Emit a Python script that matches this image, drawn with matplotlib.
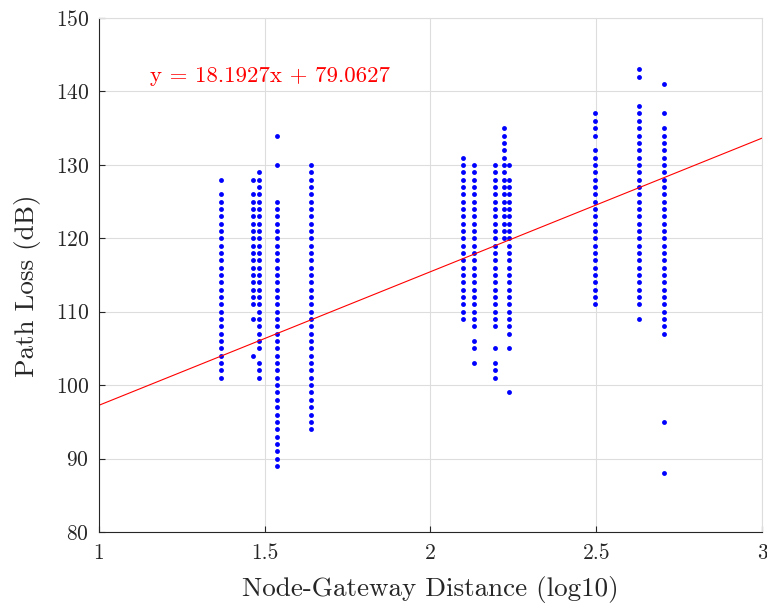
import numpy as np
import matplotlib
matplotlib.use("Agg")
import matplotlib.pyplot as plt

plt.rcParams['font.family'] = 'cmr10'
plt.rcParams['axes.formatter.use_mathtext'] = True

# x positions of the node groups (log10 of distance)
dist = [1.368, 1.464, 1.484, 1.538, 1.640, 2.099, 2.130, 2.196, 2.222, 2.238, 2.496, 2.628, 2.705]

# measured path loss (dB) for each group
loss = [
    [128, 126, 125, 124, 123, 122, 121, 120, 119, 118, 117, 116, 115, 114, 113, 112, 111, 110, 109, 108, 107,
     106, 105, 104, 103, 102, 101],
    [128, 126, 125, 124, 123, 122, 121, 120, 119, 118, 117, 116, 115, 114, 113, 112, 111, 109, 104],
    [129, 128, 127, 126, 125, 124, 123, 122, 121, 120, 119, 118, 117, 116, 115, 114, 113, 112, 111, 110, 109,
     108, 107, 106, 105, 103, 102, 101],
    [134, 130, 125, 124, 123, 122, 121, 120, 119, 118, 117, 116, 115, 114, 113, 112, 111, 110, 109, 108, 107,
     106, 105, 104, 103, 102, 101, 100, 99, 98, 97, 96, 95, 94, 93, 92, 91, 90, 89],
    [130, 129, 128, 127, 126, 125, 124, 123, 122, 121, 120, 119, 118, 117, 116, 115, 114, 113, 112, 111, 110,
     109, 108, 107, 106, 105, 104, 103, 102, 101, 100, 99, 98, 97, 96, 95, 94],
    [131, 130, 129, 128, 127, 126, 125, 124, 123, 122, 121, 120, 119, 118, 117, 116, 115, 114, 113, 112, 111,
     110, 109],
    [130, 129, 128, 127, 126, 125, 124, 123, 122, 121, 120, 119, 118, 117, 116, 115, 114, 113, 112, 111, 110,
     109, 108, 106, 105, 103],
    [130, 129, 128, 127, 126, 125, 124, 123, 122, 121, 120, 119, 118, 117, 116, 115, 114, 113, 112, 111, 110,
     109, 108, 105, 103, 102, 101],
    [135, 134, 133, 132, 131, 130, 129, 128, 127, 126, 125, 124, 123, 122, 121, 120],
    [130, 128, 127, 126, 125, 124, 123, 122, 121, 120, 119, 118, 117, 116, 115, 114, 113, 112, 111, 110, 109,
     108, 107, 105, 99],
    [137, 136, 135, 134, 132, 131, 130, 129, 128, 127, 126, 125, 124, 123, 122, 121, 120, 119, 118, 117, 116,
     115, 114, 113, 112, 111],
    [143, 142, 138, 137, 136, 135, 134, 133, 132, 131, 130, 129, 128, 127, 126, 125, 124, 123, 122, 121, 120,
     119, 118, 117, 116, 115, 114, 113, 112, 111, 109],
    [141, 137, 135, 134, 133, 132, 131, 130, 129, 128, 127, 126, 125, 124, 123, 122, 121, 120, 119, 118, 117,
     116, 115, 114, 113, 112, 111, 110, 109, 108, 107, 95, 88],
]

slope = 18.1927
intercept = 79.0627

fig = plt.figure(figsize=(7.67, 6.07), dpi=100)
ax = fig.add_axes([0.129, 0.1236, 0.8645, 0.8467])

for xv, ys in zip(dist, loss):
    ax.plot([xv] * len(ys), ys, 'o', color='blue', markersize=3.5, markeredgewidth=0)

xl = np.array([1, 3])
ax.plot(xl, slope * xl + intercept, color='red', linewidth=0.8)

ax.text(1.155, 142.1, 'y = %.4fx + %.4f' % (slope, intercept), color='red', fontsize=16.5,
        va='center', ha='left')

ax.set_xlim(1, 3)
ax.set_ylim(80, 150)
ax.set_xticks([1, 1.5, 2, 2.5, 3])
ax.set_xticklabels(['1', '1.5', '2', '2.5', '3'])
ax.set_yticks(range(80, 151, 10))
ax.grid(True, color='#dddddd', linewidth=0.8)
ax.set_axisbelow(True)
ax.tick_params(direction='in', length=4, labelsize=15.5, color='#262626', labelcolor='#262626')
ax.tick_params(axis='x', pad=8)
ax.tick_params(axis='y', pad=7)
ax.spines['top'].set_color('#dddddd')
ax.spines['right'].set_color('#dddddd')
ax.spines['left'].set_color('#262626')
ax.spines['bottom'].set_color('#262626')

ax.set_xlabel('Node-Gateway Distance (log10)', fontsize=19.5, color='#262626')
ax.set_ylabel('Path Loss (dB)', fontsize=19.5, color='#262626')
ax.xaxis.set_label_coords(0.5, -0.086)
ax.yaxis.set_label_coords(-0.087, 0.48)

fig.savefig('out.png', dpi=100)
